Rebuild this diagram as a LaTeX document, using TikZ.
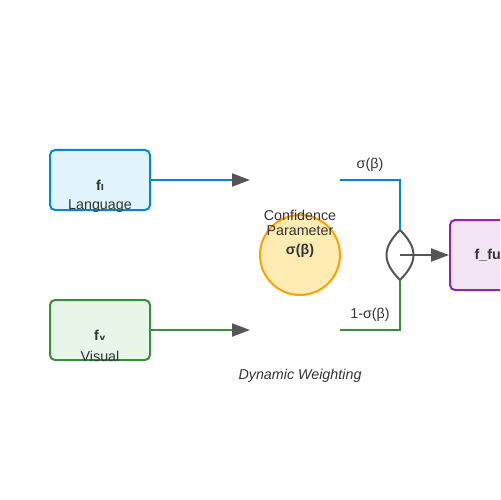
\documentclass[tikz,border=0pt]{standalone}
\usepackage{fontspec}
\setmainfont{Liberation Sans}
\newfontfamily\subfont{DejaVu Sans}
\usetikzlibrary{arrows.meta}
\definecolor{txt}{HTML}{333333}
\definecolor{arr}{HTML}{555555}
\definecolor{lblue}{HTML}{0288D1}
\definecolor{lbluef}{HTML}{E1F5FE}
\definecolor{lgreen}{HTML}{388E3C}
\definecolor{lgreenf}{HTML}{E8F5E9}
\definecolor{cor}{HTML}{FFA000}
\definecolor{corf}{HTML}{FFECB3}
\definecolor{pur}{HTML}{8E24AA}
\definecolor{purf}{HTML}{F3E5F5}
\begin{document}
\begin{tikzpicture}[x=1bp,y=-1bp,
  font=\fontsize{14.3bp}{16bp}\selectfont,
  featbox/.style={draw, line width=2bp, rounded corners=5bp, minimum width=100bp, minimum height=60bp, inner sep=0pt},
  tip/.style={-{Triangle[length=18bp,width=13bp,color=arr]}},
  conn/.style={line width=2bp},
  lbl/.style={text=txt, inner sep=0pt},
  bold/.style={font=\fontsize{14.3bp}{16bp}\selectfont\bfseries}
]
\useasboundingbox (0,0) rectangle (500,500);
\begin{scope}
\clip (0,0) rectangle (500,500);
% boxes
\node[featbox, draw=lblue, fill=lbluef] (lang) at (100,180) {};
\node[featbox, draw=lgreen, fill=lgreenf] (vis) at (100,330) {};
\node[featbox, draw=pur, fill=purf, minimum height=70bp] (fus) at (500,255) {};
\node[lbl, bold] (fl) at (100,185) {f{\subfont\bfseries ₗ}};
\node[lbl] (langt) at (100,206) {Language};
\node[lbl, bold] (fv) at (100,335) {f{\subfont\bfseries ᵥ}};
\node[lbl] (vist) at (100,356) {Visual};
\node[lbl, bold] (fust) at (500,255) {f\_fused};
% circle
\node[circle, draw=cor, fill=corf, line width=2bp, minimum size=80bp, inner sep=0pt] (conf) at (300,255) {};
\node[lbl] (c1) at (300,215.5) {Confidence};
\node[lbl] (c2) at (300,230.5) {Parameter};
\node[lbl, bold] (c3) at (300,250.5) {σ(β)};
% arrow targets
\coordinate (la) at (250,180);
\coordinate (va) at (250,330);
\draw[conn, lblue, tip] (lang.east) -- (la);
\draw[conn, lgreen, tip] (vis.east) -- (va);
% weighted lines
\coordinate (ls) at (340,180);
\coordinate (vs) at (340,330);
\coordinate (ltop) at (400,230);
\coordinate (lbot) at (400,280);
\draw[conn, lblue] (ls) -- (400,180) -- (ltop);
\draw[conn, lgreen] (vs) -- (400,330) -- (lbot);
\node[lbl] (sig) at (370,165) {σ(β)};
\node[lbl] (osig) at (370,315) {1-σ(β)};
% lens
\draw[conn, arr] (ltop) .. controls (382,248) and (382,262) .. (lbot)
  .. controls (418,262) and (418,248) .. (ltop);
\coordinate (lc) at (400,255);
\draw[conn, arr, tip] (lc) -- (fus.west);
\node[lbl, font=\fontsize{14.3bp}{16bp}\selectfont\itshape] (dw) at (300,375.5) {Dynamic Weighting};
\end{scope}
\end{tikzpicture}
\end{document}
